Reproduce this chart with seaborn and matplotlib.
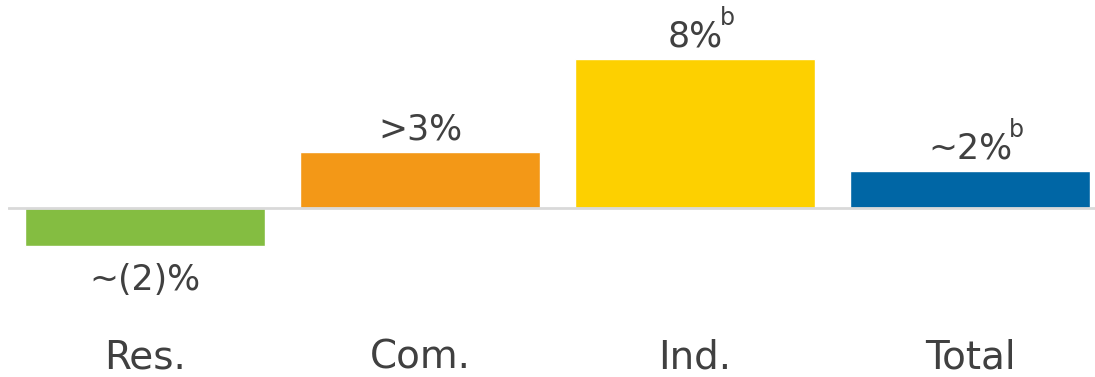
import matplotlib
matplotlib.use("Agg")
import matplotlib.pyplot as plt
import seaborn as sns
import pandas as pd

categories = ["Res.", "Com.", "Ind.", "Total"]
values = [-2, 3, 8, 2]
value_labels = ["~(2)%", ">3%", "8%", "~2%"]
superscripts = ["", "", "b", "b"]
colors = ["#84bd41", "#f39817", "#fdd000", "#0066a5"]

sns.set_theme(style="white")
plt.rcParams["font.family"] = ["DejaVu Sans"]

W, H = 1095, 377
fig = plt.figure(figsize=(W / 100, H / 100), dpi=100)
ax = fig.add_axes([8 / W, 0, 1 - 8 / W, 1])

df = pd.DataFrame({"cat": categories, "val": values})
sns.barplot(data=df, x="cat", y="val", hue="cat", palette=colors,
            width=0.873, legend=False, saturation=1, ax=ax, zorder=2)

ax.set_xlim(-0.5, 3.455)
ax.set_ylim(-9.02, 11.16)
ax.axhline(0, color="#d9d9d9", linewidth=2, zorder=3)
for s in ax.spines.values():
    s.set_visible(False)
ax.set_xticks([])
ax.set_yticks([])
ax.set_xlabel("")
ax.set_ylabel("")

txt_color = "#404040"
for i, (v, lab, sup) in enumerate(zip(values, value_labels, superscripts)):
    if v >= 0:
        t = ax.annotate(lab, xy=(i, v), xytext=(0, 4), textcoords="offset points",
                        ha="center", va="bottom", fontsize=25, color=txt_color)
    else:
        t = ax.annotate(lab, xy=(i, v), xytext=(0, -12), textcoords="offset points",
                        ha="center", va="top", fontsize=25, color=txt_color)
    if sup:
        ax.annotate(sup, xy=(1, 0.68), xycoords=t, xytext=(-2, 0),
                    textcoords="offset points", ha="left", va="bottom",
                    fontsize=17, color=txt_color)
    ax.text(i, -7.95, categories[i], ha="center", va="center",
            fontsize=28, color=txt_color)

fig.savefig("out.png", dpi=100)
